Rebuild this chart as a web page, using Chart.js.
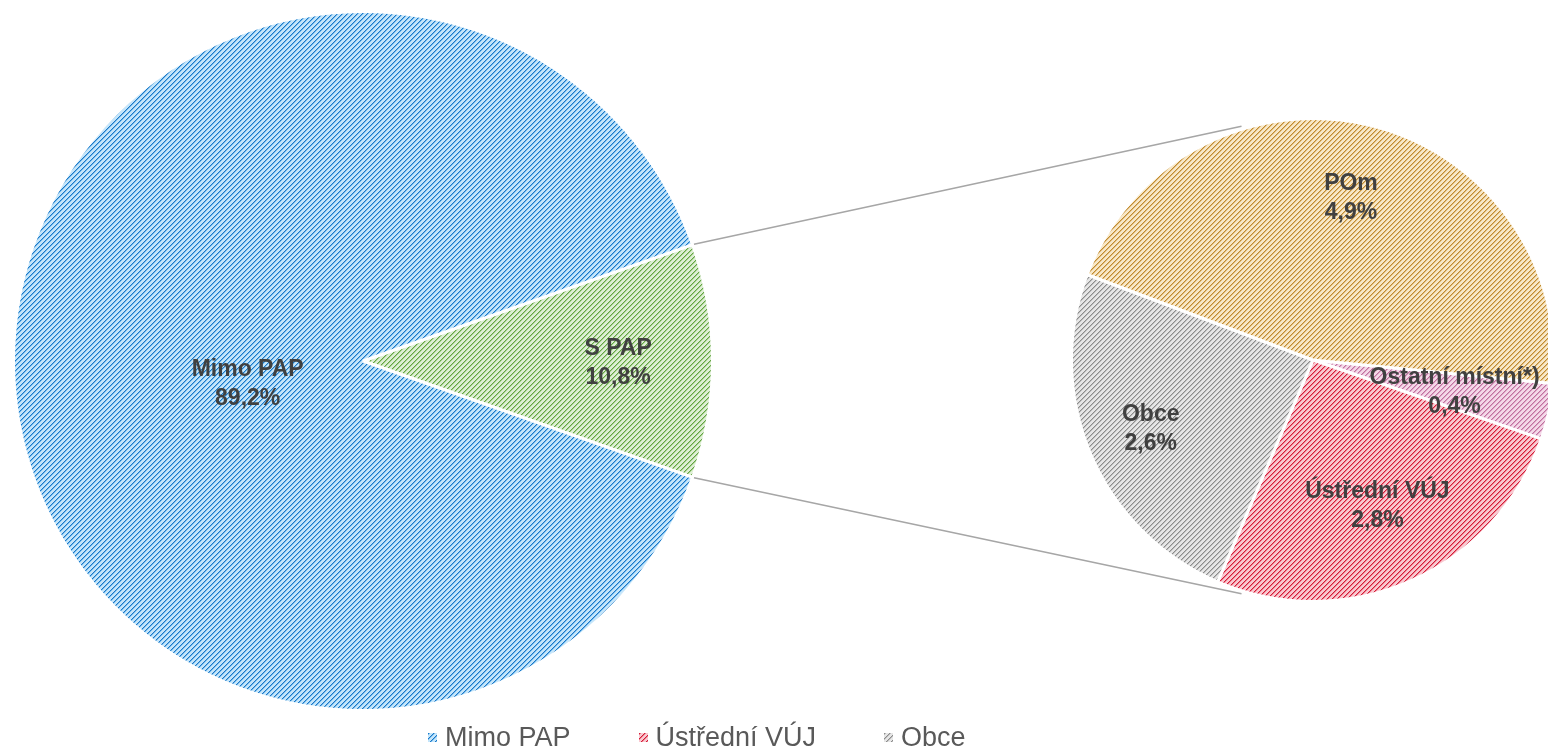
<!DOCTYPE html>
<html lang="cs">

<head>
    <meta charset="UTF-8" />
    <title>PAP - podíl</title>
    <script src="https://cdn.jsdelivr.net/npm/chart.js"></script>
    <style>
        html, body {
            margin: 0;
            padding: 0;
            width: 1548px;
            height: 748px;
            overflow: hidden;
            background: #ffffff;
            font-family: 'Liberation Sans', Arial, sans-serif;
        }

        canvas {
            position: absolute;
            left: 0;
            top: 0;
        }

        #legend {
            position: absolute;
            left: 428px;
            top: 722px;
            width: 570px;
            display: flex;
            flex-wrap: wrap;
            column-gap: 68px;
            font-size: 27px;
            line-height: 30px;
            color: #595959;
        }

        .item {
            display: flex;
            align-items: center;
        }

        .box {
            width: 9px;
            height: 9px;
            margin-right: 8px;
        }
    </style>
</head>

<body>
    <canvas id="mainPie" width="1600" height="748"></canvas>
    <canvas id="subPie" width="1600" height="748"></canvas>
    <div id="legend"></div>

    <script>
        // hlavní koláč
        const mainLabels = ["S PAP", "Mimo PAP"];
        const mainValues = [10.8, 89.2];
        // rozpad S PAP
        const subLabels = ["Ostatní místní*)", "Ústřední VÚJ", "Obce", "POm"];
        const subValues = [0.4, 2.8, 2.6, 4.9];
        // pořadí v legendě
        const legendLabels = ["Mimo PAP", "Ústřední VÚJ", "Obce", "POm", "Ostatní místní*)", "S PAP"];

        // [šrafa, mezistupeň, podklad]
        const hatchColors = {
            "Mimo PAP": ["#1a78c8", "#74b8ea", "#c4e5fa"],
            "S PAP": ["#62a442", "#a8d090", "#deefd4"],
            "POm": ["#c08a30", "#e0bc7c", "#f8e8c8"],
            "Obce": ["#8c8c8c", "#bcbcbc", "#e6e6e6"],
            "Ústřední VÚJ": ["#d41c38", "#ec7c8c", "#f9c8d0"],
            "Ostatní místní*)": ["#c070a0", "#dca4c4", "#f4d8e8"]
        };

        function hatchTile(cols) {
            const c = document.createElement("canvas");
            c.width = 5;
            c.height = 5;
            const ctx = c.getContext("2d");
            for (let x = 0; x < 5; x++) {
                for (let y = 0; y < 5; y++) {
                    const k = (x + y) % 5;
                    ctx.fillStyle = k === 0 ? cols[0] : (k === 1 ? cols[1] : cols[2]);
                    ctx.fillRect(x, y, 1, 1);
                }
            }
            return c;
        }

        function hatch(label) {
            const tile = hatchTile(hatchColors[label]);
            return tile.getContext("2d").createPattern(tile, "repeat");
        }

        const fmt = v => v.toFixed(1).replace(".", ",") + "%";

        // popisky uvnitř výsečí
        const sliceLabels = {
            id: "sliceLabels",
            afterDatasetsDraw(chart, args, opts) {
                const ctx = chart.ctx;
                const meta = chart.getDatasetMeta(0);
                const values = chart.data.datasets[0].data;
                ctx.save();
                ctx.font = "bold 23px 'Liberation Sans', Arial, sans-serif";
                ctx.fillStyle = "#404040";
                ctx.textAlign = "center";
                ctx.textBaseline = "middle";
                meta.data.forEach((arc, i) => {
                    const p = arc.getProps(["x", "y", "startAngle", "endAngle", "outerRadius"], true);
                    const mid = (p.startAngle + p.endAngle) / 2;
                    const r = p.outerRadius * opts.pos[i];
                    const x = p.x + r * Math.cos(mid);
                    const y = p.y + r * Math.sin(mid) + (opts.dy ? opts.dy[i] : 0);
                    ctx.fillText(chart.data.labels[i], x, y - 14);
                    ctx.fillText(fmt(values[i]), x, y + 15);
                });
                ctx.restore();
            }
        };

        const mainChart = new Chart(document.getElementById("mainPie"), {
            type: "pie",
            data: {
                labels: mainLabels,
                datasets: [{
                    data: mainValues,
                    backgroundColor: mainLabels.map(hatch),
                    borderColor: "#ffffff",
                    borderWidth: 3
                }]
            },
            options: {
                responsive: false,
                animation: false,
                rotation: 90 - mainValues[0] / 100 * 180,
                layout: { padding: { left: 12, top: 10, right: 886, bottom: 36 } },
                plugins: {
                    legend: { display: false },
                    tooltip: { enabled: false },
                    sliceLabels: { pos: [0.73, 0.33], dy: [2, 23] }
                }
            },
            plugins: [sliceLabels]
        });

        // spojnice mezi koláči
        const connectors = {
            id: "connectors",
            afterDraw(chart) {
                const ctx = chart.ctx;
                const a = mainChart.getDatasetMeta(0).data[0]
                    .getProps(["x", "y", "startAngle", "endAngle", "outerRadius"], true);
                const b = chart.getDatasetMeta(0).data[0].getProps(["x", "y", "outerRadius"], true);
                const R = a.outerRadius + 1.5;
                const Rb = b.outerRadius + 3;
                const ang = 107 * Math.PI / 180;
                ctx.save();
                ctx.strokeStyle = "#a6a6a6";
                ctx.lineWidth = 1.5;
                ctx.beginPath();
                ctx.moveTo(a.x + R * Math.cos(a.startAngle), a.y + R * Math.sin(a.startAngle));
                ctx.lineTo(b.x + Rb * Math.cos(-ang), b.y + Rb * Math.sin(-ang));
                ctx.moveTo(a.x + R * Math.cos(a.endAngle), a.y + R * Math.sin(a.endAngle));
                ctx.lineTo(b.x + Rb * Math.cos(ang), b.y + Rb * Math.sin(ang));
                ctx.stroke();
                ctx.restore();
            }
        };

        const subChart = new Chart(document.getElementById("subPie"), {
            type: "pie",
            data: {
                labels: subLabels,
                datasets: [{
                    data: subValues,
                    backgroundColor: subLabels.map(hatch),
                    borderColor: "#ffffff",
                    borderWidth: 3
                }]
            },
            options: {
                responsive: false,
                animation: false,
                rotation: 95.6,
                layout: { padding: { left: 1070, top: 116, right: 44, bottom: 144 } },
                plugins: {
                    legend: { display: false },
                    tooltip: { enabled: false },
                    sliceLabels: { pos: [0.6, 0.66, 0.73, 0.69], dy: [1, 0, 0, 0] }
                }
            },
            plugins: [sliceLabels, connectors]
        });

        // legenda
        const legendBox = document.getElementById("legend");
        legendLabels.forEach(name => {
            const item = document.createElement("div");
            item.className = "item";
            const box = document.createElement("span");
            box.className = "box";
            box.style.backgroundImage = `url(${hatchTile(hatchColors[name]).toDataURL()})`;
            const txt = document.createElement("span");
            txt.textContent = name;
            item.appendChild(box);
            item.appendChild(txt);
            legendBox.appendChild(item);
        });
    </script>
</body>

</html>
